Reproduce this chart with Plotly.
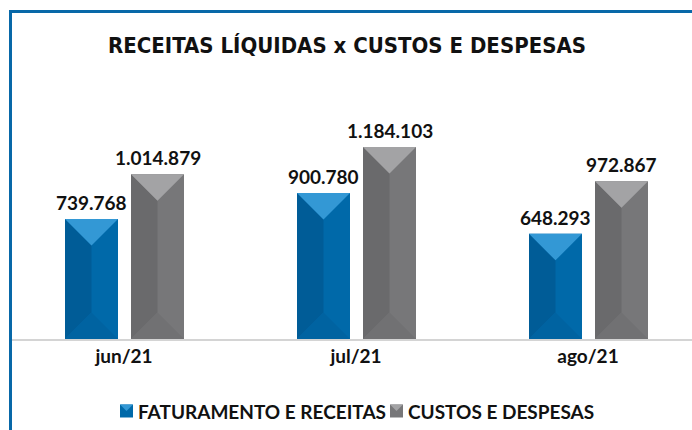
import plotly.graph_objects as go

# ---- data ----
categories = ["jun/21", "jul/21", "ago/21"]
faturamento = [739768, 900780, 648293]
custos = [1014879, 1184103, 972867]
series_names = ["FATURAMENTO E RECEITAS", "CUSTOS E DESPESAS"]
title_text = "RECEITAS LÍQUIDAS x CUSTOS E DESPESAS"

# ---- layout constants ----
W, H = 692, 430
ML, MR, MT, MB = 12, 0, 60, 91
PW, PH = W - ML - MR, H - MT - MB
CAT_PX = 232.0
FIRST_CENTER_PX = 124.0
XMIN = (ML - FIRST_CENTER_PX) / CAT_PX
XMAX = XMIN + PW / CAT_PX
PX_PER_UNIT = 120.0 / 739768.0
YMAX = PH / PX_PER_UNIT

BAR_W = 53 / CAT_PX
OFFSETS = [(65 - FIRST_CENTER_PX) / CAT_PX, (131 - FIRST_CENTER_PX) / CAT_PX]


def px2x(px):
    return (px - ML) / PW


def px2y(py):
    return (H - MB - py) / PH


styles = [
    dict(base="#0069A9", left="#005C97", top="#3398D5", bottom="#0063A1"),
    dict(base="#777779", left="#6A6A6C", top="#A3A3A5", bottom="#717173"),
]

FONT = "Lato"
fig = go.Figure()
xs = list(range(len(categories)))

series = [faturamento, custos]
for s, (vals, name, st, off) in enumerate(zip(series, series_names, styles, OFFSETS)):
    fig.add_trace(go.Bar(
        x=xs, y=vals, name=name, offset=off, width=BAR_W,
        marker=dict(color=st["base"], line=dict(width=0)),
        hoverinfo="skip", showlegend=False,
    ))

# bevel overlays computed from data
dx_half = BAR_W / 2
dy = 26.5 / PX_PER_UNIT
for s, (vals, st, off) in enumerate(zip(series, styles, OFFSETS)):
    left_x, left_y, top_x, top_y, bot_x, bot_y = [], [], [], [], [], []
    for i, v in enumerate(vals):
        x0 = xs[i] + off
        x1 = x0 + BAR_W
        xc = x0 + dx_half
        left_x += [x0, xc, xc, x0, x0, None]
        left_y += [v, v - dy, dy, 0, v, None]
        top_x += [x0, x1, xc, x0, None]
        top_y += [v, v, v - dy, v, None]
        bot_x += [x0, x1, xc, x0, None]
        bot_y += [0, 0, dy, 0, None]
    for px_, py_, col in [(left_x, left_y, st["left"]), (bot_x, bot_y, st["bottom"]), (top_x, top_y, st["top"])]:
        fig.add_trace(go.Scatter(
            x=px_, y=py_, mode="lines", fill="toself", fillcolor=col,
            line=dict(width=0, color=col), showlegend=False, hoverinfo="skip",
        ))

# data labels
for vals, off in zip(series, OFFSETS):
    for i, v in enumerate(vals):
        fig.add_annotation(
            x=xs[i] + off + BAR_W / 2, y=v, yanchor="bottom", yshift=3,
            text=f"{v:,}".replace(",", "."), showarrow=False,
            font=dict(family=FONT, size=19, color="#111111", weight="bold"),
        )

# custom legend (icon right next to text, as in the reference)
legend_items = [(120, series_names[0], styles[0]), (390, series_names[1], styles[1])]
LY = 411
for lx, name, st in legend_items:
    fig.add_shape(type="rect", xref="paper", yref="paper",
                  x0=px2x(lx), x1=px2x(lx + 13), y0=px2y(LY + 6.5), y1=px2y(LY - 6.5),
                  fillcolor=st["base"], line=dict(width=0), layer="above")
    fig.add_shape(type="path", xref="paper", yref="paper",
                  path=f"M {px2x(lx)} {px2y(LY - 6.5)} L {px2x(lx + 13)} {px2y(LY - 6.5)} "
                       f"L {px2x(lx + 6.5)} {px2y(LY)} Z",
                  fillcolor=st["top"], line=dict(width=0), layer="above")
    fig.add_annotation(xref="paper", yref="paper", x=px2x(lx + 16), y=px2y(LY),
                       xanchor="left", yanchor="middle", text=name, showarrow=False,
                       font=dict(family=FONT, size=19, color="#111111", weight="bold"))

# frame border
fig.add_shape(
    type="rect", xref="paper", yref="paper",
    x0=px2x(10.5), x1=1.5, y0=-2, y1=px2y(11.5),
    line=dict(color="#0868A8", width=3), fillcolor="rgba(0,0,0,0)", layer="above",
)

fig.update_layout(
    width=W, height=H,
    margin=dict(l=ML, r=MR, t=MT, b=MB),
    paper_bgcolor="white", plot_bgcolor="white",
    showlegend=False,
    title=dict(
        text=title_text, x=px2x(347), xref="paper", xanchor="center",
        y=1 - 45 / H, yanchor="middle",
        font=dict(family="DejaVu Sans Condensed", size=22, color="#111111", weight="bold"),
    ),
    xaxis=dict(
        range=[XMIN, XMAX], tickvals=xs, ticktext=categories,
        showgrid=False, zeroline=False, showline=True, linecolor="#D4D4D4", linewidth=1.5,
        ticks="", tickfont=dict(family=FONT, size=19, color="#111111", weight="bold"),
        fixedrange=True,
    ),
    yaxis=dict(range=[0, YMAX], visible=False, fixedrange=True),
)

fig.write_html("out.html", config={"displayModeBar": False, "staticPlot": True})
with open("out.html", encoding="utf-8") as f:
    html = f.read()
html = html.replace("<body>", '<body style="margin:0;overflow:hidden">', 1)
with open("out.html", "w", encoding="utf-8") as f:
    f.write(html)
